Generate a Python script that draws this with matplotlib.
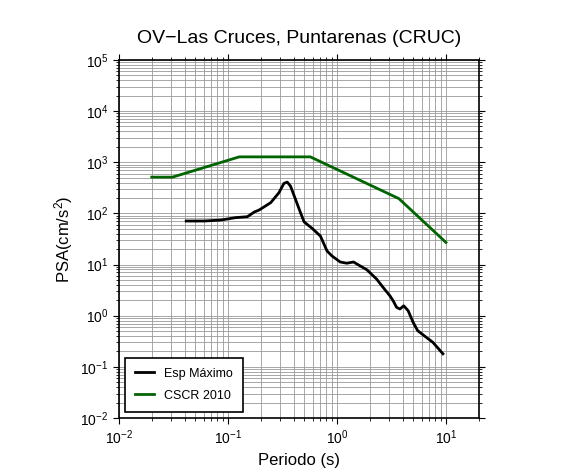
import numpy as np
import matplotlib
matplotlib.use('Agg')
import matplotlib.pyplot as plt

plt.rcParams['font.family'] = ['Liberation Sans', 'DejaVu Sans']
plt.rcParams['mathtext.fontset'] = 'custom'
plt.rcParams['mathtext.rm'] = 'Liberation Sans'
plt.rcParams['mathtext.it'] = 'Liberation Sans:italic'

# Espectro maximo
periodo_esp = [0.0414, 0.0608, 0.0863, 0.118, 0.151, 0.174, 0.193, 0.247, 0.294, 0.326,
               0.35, 0.375, 0.417, 0.463, 0.5, 0.591, 0.705, 0.811, 0.9, 1.07,
               1.23, 1.42, 1.63, 1.88, 2.31, 2.76, 3.06, 3.28, 3.52, 3.78,
               4.1, 4.5, 5.0, 5.5, 6.37, 7.6, 9.38]
psa_esp = [70.8, 70.8, 74, 82.5, 86, 106, 116, 162, 254, 385,
           408, 340, 187, 103, 68, 51, 36, 18.4, 14.7, 11.2,
           10.6, 11.2, 9.4, 7.9, 5.2, 3.2, 2.45, 1.95, 1.46, 1.35,
           1.56, 1.25, 0.74, 0.51, 0.40, 0.30, 0.18]

# Espectro de diseno CSCR 2010
periodo_cscr = [0.02, 0.031, 0.127, 0.57, 3.7, 10]
psa_cscr = [510, 510, 1270, 1270, 194, 27]

fig = plt.figure(figsize=(5.86, 4.75), dpi=100)
ax = fig.add_axes([0.203, 0.12, 0.614, 0.754])

ax.loglog(periodo_esp, psa_esp, color='black', lw=2, label='Esp Máximo')
ax.loglog(periodo_cscr, psa_cscr, color='#006400', lw=2, label='CSCR 2010')

ax.set_xlim(0.01, 20)
ax.set_ylim(1e-2, 1e5)
ax.grid(True, which='both', color='#999999', lw=0.6)
ax.set_axisbelow(True)
ax.tick_params(which='both', direction='out', top=True, right=True, labelsize=10)
ax.tick_params(which='major', length=4)
ax.tick_params(which='minor', length=2)
for s in ax.spines.values():
    s.set_linewidth(1.2)

ax.set_title('OV\u2212Las Cruces, Puntarenas (CRUC)', fontsize=14, pad=12)
ax.set_xlabel('Periodo (s)', fontsize=12)
ax.set_ylabel('PSA(cm/s$^2$)', fontsize=12)

leg = ax.legend(loc='lower left', fontsize=9, fancybox=False, framealpha=1,
                edgecolor='black', handlelength=1.5, borderpad=0.8, labelspacing=0.8)
leg.get_frame().set_linewidth(1.2)

fig.savefig('out.png', dpi=100)
